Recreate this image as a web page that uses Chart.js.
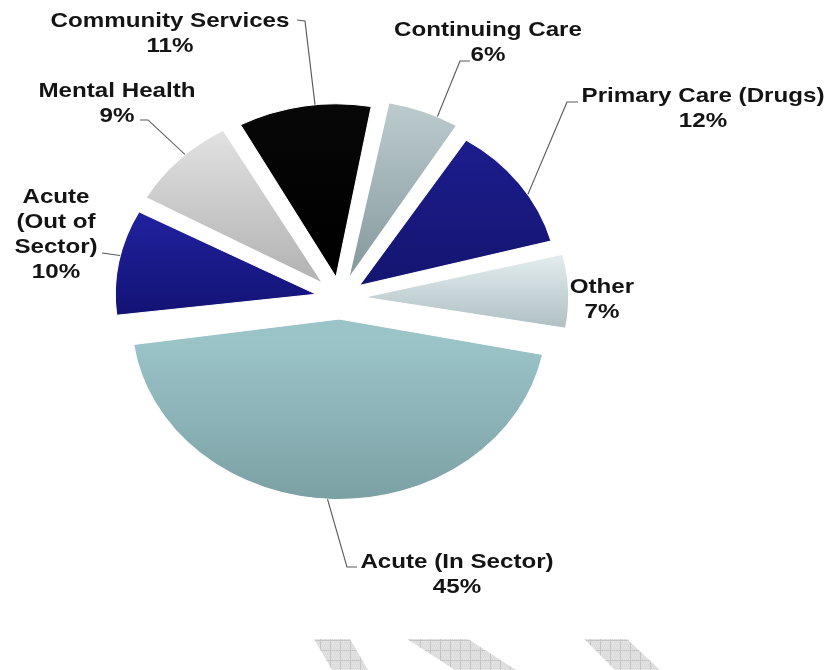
<!DOCTYPE html>
<html lang="en">
<head>
    <meta charset="UTF-8">
    <title>Spend by Care Area</title>
    <script src="https://cdn.jsdelivr.net/npm/chart.js@4"></script>
    <style>
        html, body {
            margin: 0;
            padding: 0;
            background: #fff;
        }

        #wrap {
            width: 831px;
            height: 670px;
        }
    </style>
</head>
<body>
    <div id="wrap"><canvas id="pie" width="831" height="670"></canvas></div>

    <script>
        // Data
        const categories = ['Community Services', 'Continuing Care', 'Primary Care (Drugs)', 'Other',
            'Acute (In Sector)', 'Acute (Out of Sector)', 'Mental Health'];
        const shares = [11, 6, 12, 7, 45, 10, 9];

        // Slice colours (top / bottom of each slice's gradient)
        const topColors = ['#080808', '#bfcdd0', '#1d1d90', '#e3edef', '#9bc4c8', '#2121a0', '#e4e4e4'];
        const bottomColors = ['#000000', '#8a9ea2', '#151572', '#b0c0c3', '#7a9fa3', '#131376', '#b6b6b6'];

        // The original picture is stretched sideways; draw in "native" space and scale by SX
        const SX = 1.15;
        const RADIUS = 166;
        const EXPLODE = 21;
        const ROTATION = -29;

        const FONT = 'bold 21px "Liberation Sans", Arial, sans-serif';
        const wrapped = { 'Acute (Out of Sector)': ['Acute', '(Out of', 'Sector)'] };

        // label placement in screen px: centre x, first baseline, leader start points, where the leader meets the arc
        const labelLayout = [
            { x: 170, y: 27, lead: [[297, 20], [305, 21]], hit: 0.58 },
            { x: 488, y: 36, lead: [[470, 61], [460, 61]], hit: 0.69 },
            { x: 703, y: 102, lead: [[578, 102], [567, 102]], hit: 0.60 },
            { x: 602, y: 293, lead: null },
            { x: 457, y: 568, lead: [[357, 567], [347, 567]], hit: 0.51 },
            { x: 56, y: 203, lead: [[102, 253]], hit: 0.56 },
            { x: 117, y: 97, lead: [[140, 120], [148, 120]], hit: 0.57 }
        ];
        const LINE_GAP = 25;

        // grey watermark shapes along the bottom edge
        const watermark = [
            [[314, 639], [350, 639], [368, 670], [332, 670]],
            [[407, 639], [468, 639], [516, 670], [455, 670]],
            [[584, 639], [627, 639], [660, 670], [615, 670]]
        ];

        function sliceFill(c) {
            const chart = c.chart;
            const i = c.dataIndex;
            const area = chart.chartArea;
            if (!area) return topColors[i];
            const cx = (area.left + area.right) / 2;
            const cy = (area.top + area.bottom) / 2;
            const total = shares.reduce((a, b) => a + b, 0);
            let a0 = (ROTATION - 90) * Math.PI / 180;
            for (let k = 0; k < i; k++) a0 += shares[k] / total * 2 * Math.PI;
            const a1 = a0 + shares[i] / total * 2 * Math.PI;
            const mid = (a0 + a1) / 2;
            const oy = cy + Math.sin(mid) * EXPLODE;
            let y0 = oy, y1 = oy;
            for (let t = 0; t <= 24; t++) {
                const y = oy + Math.sin(a0 + (a1 - a0) * t / 24) * RADIUS;
                y0 = Math.min(y0, y);
                y1 = Math.max(y1, y);
            }
            const g = chart.ctx.createLinearGradient(0, y0, 0, y1);
            g.addColorStop(0, topColors[i]);
            g.addColorStop(1, bottomColors[i]);
            return g;
        }

        function makeTile() {
            const tile = document.createElement('canvas');
            tile.width = 10;
            tile.height = 10;
            const t = tile.getContext('2d');
            t.fillStyle = '#dcdcdc';
            t.fillRect(0, 0, 10, 10);
            t.fillStyle = '#e6e6e6';
            for (let y = 1; y < 10; y += 2) {
                for (let x = 1 + (y % 4 === 1 ? 0 : 1); x < 10; x += 2) t.fillRect(x, y, 1, 1);
            }
            t.fillStyle = '#c4c4c4';
            t.fillRect(0, 0, 10, 1);
            t.fillRect(0, 0, 1, 10);
            return tile;
        }

        const picture = {
            id: 'picture',
            beforeDraw(chart) {
                chart.ctx.save();
                chart.ctx.scale(SX, 1);
            },
            afterDatasetsDraw(chart) {
                const ctx = chart.ctx;
                const arcs = chart.getDatasetMeta(0).data;
                ctx.save();
                ctx.font = FONT;
                ctx.textAlign = 'center';
                ctx.textBaseline = 'alphabetic';
                ctx.fillStyle = '#141414';
                ctx.strokeStyle = '#5a5a5a';
                ctx.lineWidth = 1;

                categories.forEach((name, i) => {
                    const spot = labelLayout[i];
                    const lines = (wrapped[name] || [name]).concat(shares[i] + '%');
                    lines.forEach((line, k) => {
                        ctx.fillText(line, spot.x / SX, spot.y + k * LINE_GAP);
                    });

                    if (!spot.lead) return;
                    const el = arcs[i];
                    const mid = (el.startAngle + el.endAngle) / 2;
                    const fix = 1 - Math.sin(Math.min(Math.PI, el.circumference));
                    const r = el.outerRadius + EXPLODE * fix;
                    const ang = el.startAngle + spot.hit * (el.endAngle - el.startAngle);
                    const ex = el.x + Math.cos(mid) * EXPLODE + Math.cos(ang) * r;
                    const ey = el.y + Math.sin(mid) * EXPLODE + Math.sin(ang) * r;

                    ctx.beginPath();
                    spot.lead.forEach(([px, py], k) => {
                        if (k === 0) ctx.moveTo(px / SX, py);
                        else ctx.lineTo(px / SX, py);
                    });
                    ctx.lineTo(ex, ey);
                    ctx.stroke();
                });
                ctx.restore();
            },
            afterDraw(chart) {
                const ctx = chart.ctx;
                ctx.restore();
                ctx.save();
                ctx.fillStyle = ctx.createPattern(makeTile(), 'repeat');
                watermark.forEach(shape => {
                    ctx.beginPath();
                    shape.forEach(([x, y], k) => k ? ctx.lineTo(x, y) : ctx.moveTo(x, y));
                    ctx.closePath();
                    ctx.fill();
                });
                ctx.restore();
            }
        };

        new Chart(document.getElementById('pie'), {
            type: 'pie',
            data: {
                labels: categories,
                datasets: [{
                    data: shares,
                    backgroundColor: sliceFill,
                    borderColor: '#ffffff',
                    borderWidth: 1,
                    offset: EXPLODE * 4,
                    hoverOffset: 0,
                    clip: false
                }]
            },
            options: {
                responsive: false,
                animation: false,
                events: [],
                rotation: ROTATION,
                radius: RADIUS,
                layout: {
                    padding: { left: 0, top: 0, right: 240, bottom: 74 }
                },
                plugins: {
                    legend: { display: false },
                    tooltip: { enabled: false }
                }
            },
            plugins: [picture]
        });
    </script>
</body>
</html>
